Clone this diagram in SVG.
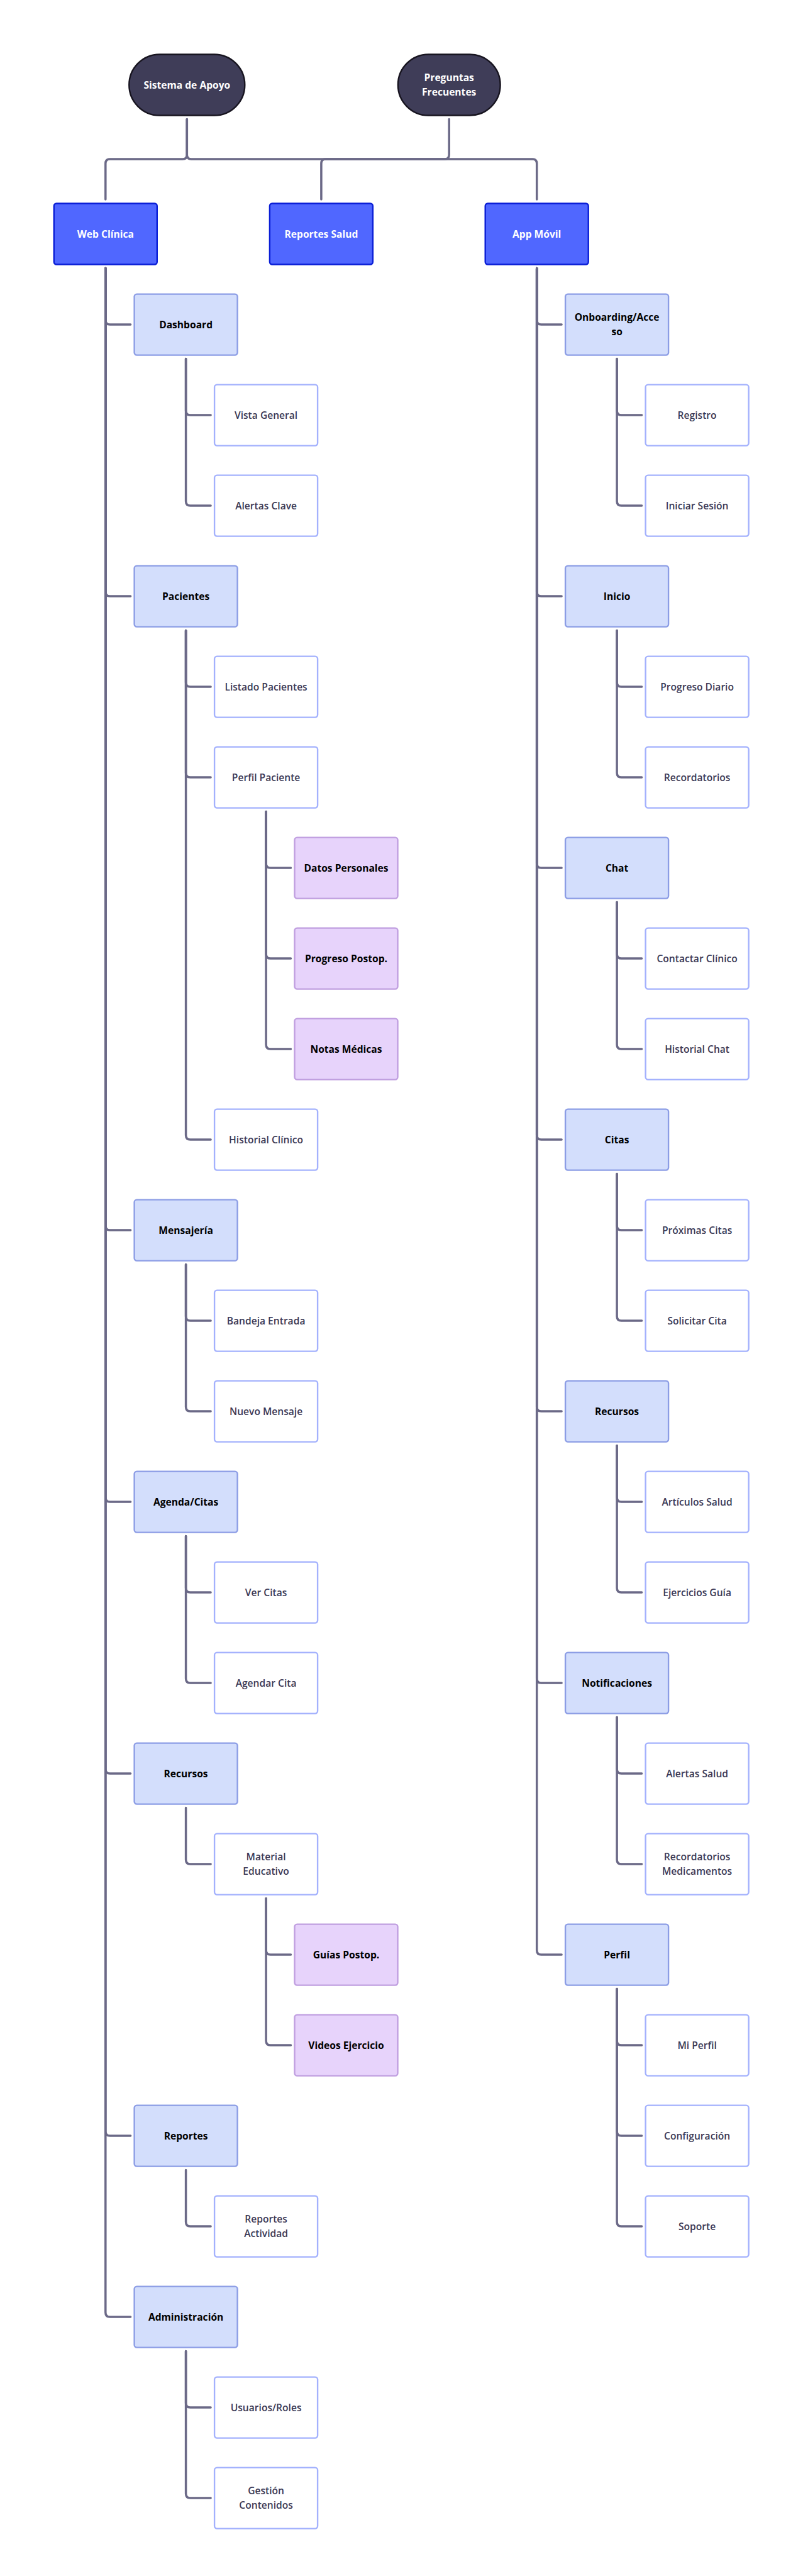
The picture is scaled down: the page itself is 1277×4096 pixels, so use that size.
<svg xmlns="http://www.w3.org/2000/svg" width="1277" height="4096" viewBox="0 0 1277 4096">
<style>
.c path{fill:none;stroke:#6b6987;stroke-width:3.5;stroke-linecap:round;stroke-linejoin:round}
.root rect{fill:#3f3d58;stroke:#17141f;stroke-width:2.4}
.top rect{fill:#5067ff;stroke:#0a1ed6;stroke-width:2.4}
.l1 rect{fill:#d3defc;stroke:#8c9de5;stroke-width:2.4}
.l2 rect{fill:#ffffff;stroke:#a3b1fd;stroke-width:2.4}
.l3 rect{fill:#e7d3fb;stroke:#c09fe0;stroke-width:2.4}
text{font-family:"Open Sans","Noto Sans",sans-serif;font-size:15.6px;text-anchor:middle}
.root text,.top text{fill:#ffffff;font-weight:700}
.l1 text,.l3 text{fill:#000000;font-weight:700}
.l2 text{fill:#3b3955;font-weight:600}
</style>
<rect width="1277" height="4096" fill="#ffffff"/>
<g id="connectors" class="c">
<path d="M297.3 189.5V246Q297.3 253 290.3 253H174.8Q167.8 253 167.8 260V317"/>
<path d="M297.3 189.5V246Q297.3 253 304.3 253H846.7Q853.7 253 853.7 260V317"/>
<path d="M714.2 189.5V246Q714.2 253 707.2 253H517.9Q510.9 253 510.9 260V317"/>
<path d="M167.8 426.5V509.1Q167.8 516.1 174.8 516.1H207.6"/>
<path d="M167.8 426.5V941.1Q167.8 948.1 174.8 948.1H207.6"/>
<path d="M167.8 426.5V1949.1Q167.8 1956.1 174.8 1956.1H207.6"/>
<path d="M167.8 426.5V2381.1Q167.8 2388.1 174.8 2388.1H207.6"/>
<path d="M167.8 426.5V2813.1Q167.8 2820.1 174.8 2820.1H207.6"/>
<path d="M167.8 426.5V3389.1Q167.8 3396.1 174.8 3396.1H207.6"/>
<path d="M167.8 426.5V3677.1Q167.8 3684.1 174.8 3684.1H207.6"/>
<path d="M295.6 570.6V653.1Q295.6 660.1 302.6 660.1H335.1"/>
<path d="M295.6 570.6V797.1Q295.6 804.1 302.6 804.1H335.1"/>
<path d="M295.6 1002.6V1085.1Q295.6 1092.1 302.6 1092.1H335.1"/>
<path d="M295.6 1002.6V1229.1Q295.6 1236.1 302.6 1236.1H335.1"/>
<path d="M295.6 1002.6V1805.1Q295.6 1812.1 302.6 1812.1H335.1"/>
<path d="M423.1 1290.6V1373.1Q423.1 1380.1 430.1 1380.1H462.5"/>
<path d="M423.1 1290.6V1517.1Q423.1 1524.1 430.1 1524.1H462.5"/>
<path d="M423.1 1290.6V1661.1Q423.1 1668.1 430.1 1668.1H462.5"/>
<path d="M295.6 2010.6V2093.1Q295.6 2100.1 302.6 2100.1H335.1"/>
<path d="M295.6 2010.6V2237.1Q295.6 2244.1 302.6 2244.1H335.1"/>
<path d="M295.6 2442.6V2525.1Q295.6 2532.1 302.6 2532.1H335.1"/>
<path d="M295.6 2442.6V2669.1Q295.6 2676.1 302.6 2676.1H335.1"/>
<path d="M295.6 2874.6V2957.1Q295.6 2964.1 302.6 2964.1H335.1"/>
<path d="M423.1 3018.6V3101.1Q423.1 3108.1 430.1 3108.1H462.5"/>
<path d="M423.1 3018.6V3245.1Q423.1 3252.1 430.1 3252.1H462.5"/>
<path d="M295.6 3450.6V3533.1Q295.6 3540.1 302.6 3540.1H335.1"/>
<path d="M295.6 3738.6V3821.1Q295.6 3828.1 302.6 3828.1H335.1"/>
<path d="M295.6 3738.6V3965.1Q295.6 3972.1 302.6 3972.1H335.1"/>
<path d="M853.7 426.5V509.1Q853.7 516.1 860.7 516.1H893.1"/>
<path d="M853.7 426.5V941.1Q853.7 948.1 860.7 948.1H893.1"/>
<path d="M853.7 426.5V1373.1Q853.7 1380.1 860.7 1380.1H893.1"/>
<path d="M853.7 426.5V1805.1Q853.7 1812.1 860.7 1812.1H893.1"/>
<path d="M853.7 426.5V2237.1Q853.7 2244.1 860.7 2244.1H893.1"/>
<path d="M853.7 426.5V2669.1Q853.7 2676.1 860.7 2676.1H893.1"/>
<path d="M853.7 426.5V3101.1Q853.7 3108.1 860.7 3108.1H893.1"/>
<path d="M981.1 570.6V653.1Q981.1 660.1 988.1 660.1H1020.6"/>
<path d="M981.1 570.6V797.1Q981.1 804.1 988.1 804.1H1020.6"/>
<path d="M981.1 1002.6V1085.1Q981.1 1092.1 988.1 1092.1H1020.6"/>
<path d="M981.1 1002.6V1229.1Q981.1 1236.1 988.1 1236.1H1020.6"/>
<path d="M981.1 1434.6V1517.1Q981.1 1524.1 988.1 1524.1H1020.6"/>
<path d="M981.1 1434.6V1661.1Q981.1 1668.1 988.1 1668.1H1020.6"/>
<path d="M981.1 1866.6V1949.1Q981.1 1956.1 988.1 1956.1H1020.6"/>
<path d="M981.1 1866.6V2093.1Q981.1 2100.1 988.1 2100.1H1020.6"/>
<path d="M981.1 2298.6V2381.1Q981.1 2388.1 988.1 2388.1H1020.6"/>
<path d="M981.1 2298.6V2525.1Q981.1 2532.1 988.1 2532.1H1020.6"/>
<path d="M981.1 2730.6V2813.1Q981.1 2820.1 988.1 2820.1H1020.6"/>
<path d="M981.1 2730.6V2957.1Q981.1 2964.1 988.1 2964.1H1020.6"/>
<path d="M981.1 3162.6V3245.1Q981.1 3252.1 988.1 3252.1H1020.6"/>
<path d="M981.1 3162.6V3389.1Q981.1 3396.1 988.1 3396.1H1020.6"/>
<path d="M981.1 3162.6V3533.1Q981.1 3540.1 988.1 3540.1H1020.6"/>
</g>
<g id="n-sistema" class="root"><rect x="205.3" y="86.5" width="184" height="97" rx="48.5"/><text x="297.3" y="140.5">Sistema de Apoyo</text></g>
<g id="n-preguntas" class="root"><rect x="632.9" y="86.5" width="162.7" height="97" rx="48.5"/><text x="714.2" y="128.8">Preguntas</text><text x="714.2" y="152.2">Frecuentes</text></g>
<g id="n-web" class="top"><rect x="85.8" y="323.5" width="164" height="97" rx="4"/><text x="167.8" y="377.5">Web Clínica</text></g>
<g id="n-reportessalud" class="top"><rect x="428.9" y="323.5" width="164" height="97" rx="4"/><text x="510.9" y="377.5">Reportes Salud</text></g>
<g id="n-app" class="top"><rect x="771.7" y="323.5" width="164" height="97" rx="4"/><text x="853.7" y="377.5">App Móvil</text></g>
<g id="n-dashboard" class="l1"><rect x="213.6" y="467.6" width="164" height="97" rx="4"/><text x="295.6" y="521.6">Dashboard</text></g>
<g id="n-vista" class="l2"><rect x="341.1" y="611.6" width="164" height="97" rx="4"/><text x="423.1" y="665.6">Vista General</text></g>
<g id="n-alertasclave" class="l2"><rect x="341.1" y="755.6" width="164" height="97" rx="4"/><text x="423.1" y="809.6">Alertas Clave</text></g>
<g id="n-pacientes" class="l1"><rect x="213.6" y="899.6" width="164" height="97" rx="4"/><text x="295.6" y="953.6">Pacientes</text></g>
<g id="n-listado" class="l2"><rect x="341.1" y="1043.6" width="164" height="97" rx="4"/><text x="423.1" y="1097.6">Listado Pacientes</text></g>
<g id="n-perfilpaciente" class="l2"><rect x="341.1" y="1187.6" width="164" height="97" rx="4"/><text x="423.1" y="1241.6">Perfil Paciente</text></g>
<g id="n-datos" class="l3"><rect x="468.5" y="1331.6" width="164" height="97" rx="4"/><text x="550.5" y="1385.6">Datos Personales</text></g>
<g id="n-progresopostop" class="l3"><rect x="468.5" y="1475.6" width="164" height="97" rx="4"/><text x="550.5" y="1529.6">Progreso Postop.</text></g>
<g id="n-notas" class="l3"><rect x="468.5" y="1619.6" width="164" height="97" rx="4"/><text x="550.5" y="1673.6">Notas Médicas</text></g>
<g id="n-historialclinico" class="l2"><rect x="341.1" y="1763.6" width="164" height="97" rx="4"/><text x="423.1" y="1817.6">Historial Clínico</text></g>
<g id="n-mensajeria" class="l1"><rect x="213.6" y="1907.6" width="164" height="97" rx="4"/><text x="295.6" y="1961.6">Mensajería</text></g>
<g id="n-bandeja" class="l2"><rect x="341.1" y="2051.6" width="164" height="97" rx="4"/><text x="423.1" y="2105.6">Bandeja Entrada</text></g>
<g id="n-nuevo" class="l2"><rect x="341.1" y="2195.6" width="164" height="97" rx="4"/><text x="423.1" y="2249.6">Nuevo Mensaje</text></g>
<g id="n-agenda" class="l1"><rect x="213.6" y="2339.6" width="164" height="97" rx="4"/><text x="295.6" y="2393.6">Agenda/Citas</text></g>
<g id="n-vercitas" class="l2"><rect x="341.1" y="2483.6" width="164" height="97" rx="4"/><text x="423.1" y="2537.6">Ver Citas</text></g>
<g id="n-agendar" class="l2"><rect x="341.1" y="2627.6" width="164" height="97" rx="4"/><text x="423.1" y="2681.6">Agendar Cita</text></g>
<g id="n-recursosweb" class="l1"><rect x="213.6" y="2771.6" width="164" height="97" rx="4"/><text x="295.6" y="2825.6">Recursos</text></g>
<g id="n-material" class="l2"><rect x="341.1" y="2915.6" width="164" height="97" rx="4"/><text x="423.1" y="2957.9">Material</text><text x="423.1" y="2981.3">Educativo</text></g>
<g id="n-guias" class="l3"><rect x="468.5" y="3059.6" width="164" height="97" rx="4"/><text x="550.5" y="3113.6">Guías Postop.</text></g>
<g id="n-videos" class="l3"><rect x="468.5" y="3203.6" width="164" height="97" rx="4"/><text x="550.5" y="3257.6">Videos Ejercicio</text></g>
<g id="n-reportes" class="l1"><rect x="213.6" y="3347.6" width="164" height="97" rx="4"/><text x="295.6" y="3401.6">Reportes</text></g>
<g id="n-reportesact" class="l2"><rect x="341.1" y="3491.6" width="164" height="97" rx="4"/><text x="423.1" y="3533.9">Reportes</text><text x="423.1" y="3557.3">Actividad</text></g>
<g id="n-admin" class="l1"><rect x="213.6" y="3635.6" width="164" height="97" rx="4"/><text x="295.6" y="3689.6">Administración</text></g>
<g id="n-usuarios" class="l2"><rect x="341.1" y="3779.6" width="164" height="97" rx="4"/><text x="423.1" y="3833.6">Usuarios/Roles</text></g>
<g id="n-gestion" class="l2"><rect x="341.1" y="3923.6" width="164" height="97" rx="4"/><text x="423.1" y="3965.9">Gestión</text><text x="423.1" y="3989.3">Contenidos</text></g>
<g id="n-onboarding" class="l1"><rect x="899.1" y="467.6" width="164" height="97" rx="4"/><text x="981.1" y="509.9">Onboarding/Acce</text><text x="981.1" y="533.3">so</text></g>
<g id="n-registro" class="l2"><rect x="1026.6" y="611.6" width="164" height="97" rx="4"/><text x="1108.6" y="665.6">Registro</text></g>
<g id="n-iniciar" class="l2"><rect x="1026.6" y="755.6" width="164" height="97" rx="4"/><text x="1108.6" y="809.6">Iniciar Sesión</text></g>
<g id="n-inicio" class="l1"><rect x="899.1" y="899.6" width="164" height="97" rx="4"/><text x="981.1" y="953.6">Inicio</text></g>
<g id="n-progresodiario" class="l2"><rect x="1026.6" y="1043.6" width="164" height="97" rx="4"/><text x="1108.6" y="1097.6">Progreso Diario</text></g>
<g id="n-recordatorios" class="l2"><rect x="1026.6" y="1187.6" width="164" height="97" rx="4"/><text x="1108.6" y="1241.6">Recordatorios</text></g>
<g id="n-chat" class="l1"><rect x="899.1" y="1331.6" width="164" height="97" rx="4"/><text x="981.1" y="1385.6">Chat</text></g>
<g id="n-contactar" class="l2"><rect x="1026.6" y="1475.6" width="164" height="97" rx="4"/><text x="1108.6" y="1529.6">Contactar Clínico</text></g>
<g id="n-historialchat" class="l2"><rect x="1026.6" y="1619.6" width="164" height="97" rx="4"/><text x="1108.6" y="1673.6">Historial Chat</text></g>
<g id="n-citas" class="l1"><rect x="899.1" y="1763.6" width="164" height="97" rx="4"/><text x="981.1" y="1817.6">Citas</text></g>
<g id="n-proximas" class="l2"><rect x="1026.6" y="1907.6" width="164" height="97" rx="4"/><text x="1108.6" y="1961.6">Próximas Citas</text></g>
<g id="n-solicitar" class="l2"><rect x="1026.6" y="2051.6" width="164" height="97" rx="4"/><text x="1108.6" y="2105.6">Solicitar Cita</text></g>
<g id="n-recursosapp" class="l1"><rect x="899.1" y="2195.6" width="164" height="97" rx="4"/><text x="981.1" y="2249.6">Recursos</text></g>
<g id="n-articulos" class="l2"><rect x="1026.6" y="2339.6" width="164" height="97" rx="4"/><text x="1108.6" y="2393.6">Artículos Salud</text></g>
<g id="n-ejercicios" class="l2"><rect x="1026.6" y="2483.6" width="164" height="97" rx="4"/><text x="1108.6" y="2537.6">Ejercicios Guía</text></g>
<g id="n-notificaciones" class="l1"><rect x="899.1" y="2627.6" width="164" height="97" rx="4"/><text x="981.1" y="2681.6">Notificaciones</text></g>
<g id="n-alertassalud" class="l2"><rect x="1026.6" y="2771.6" width="164" height="97" rx="4"/><text x="1108.6" y="2825.6">Alertas Salud</text></g>
<g id="n-recmed" class="l2"><rect x="1026.6" y="2915.6" width="164" height="97" rx="4"/><text x="1108.6" y="2957.9">Recordatorios</text><text x="1108.6" y="2981.3">Medicamentos</text></g>
<g id="n-perfil" class="l1"><rect x="899.1" y="3059.6" width="164" height="97" rx="4"/><text x="981.1" y="3113.6">Perfil</text></g>
<g id="n-miperfil" class="l2"><rect x="1026.6" y="3203.6" width="164" height="97" rx="4"/><text x="1108.6" y="3257.6">Mi Perfil</text></g>
<g id="n-config" class="l2"><rect x="1026.6" y="3347.6" width="164" height="97" rx="4"/><text x="1108.6" y="3401.6">Configuración</text></g>
<g id="n-soporte" class="l2"><rect x="1026.6" y="3491.6" width="164" height="97" rx="4"/><text x="1108.6" y="3545.6">Soporte</text></g>
</svg>
